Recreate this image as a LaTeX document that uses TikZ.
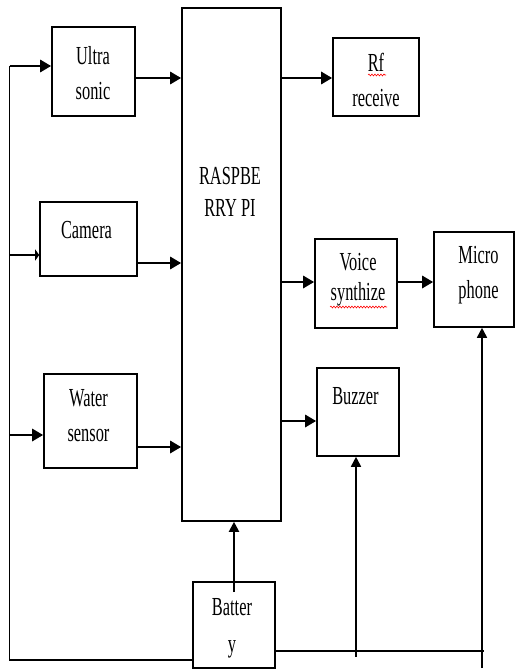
\documentclass[tikz,border=0pt]{standalone}
\usepackage{fontspec}
\setmainfont[FakeStretch=0.63]{Liberation Serif}
\usetikzlibrary{arrows.meta,decorations.pathmorphing}

\begin{document}
\begin{tikzpicture}[x=1pt,y=-1pt]
  \tikzset{blk/.style 2 args={draw,line width=1.6pt,inner sep=0pt,minimum width=#1,minimum height=#2},
    txt/.style={inner sep=0pt,align=center,font=\fontsize{26}{35}\selectfont},
    wire/.style={line width=1.7pt},
    feed/.style={line width=2.8pt,-{Triangle[length=11pt,width=12pt]}},
    up/.style={line width=1.7pt,-{Triangle[length=10pt,width=10pt]}},
    squig/.style={red,line width=0.6pt,decorate,decoration={snake,amplitude=0.9pt,segment length=3pt}}}
  \useasboundingbox (0,0) rectangle (515,671);
  % blocks
  \node[blk={83pt}{89pt}] (us) at (93.5,71.5) {};
  \node[blk={97pt}{74pt}] (cam) at (88.5,239) {};
  \node[blk={93pt}{94pt}] (wat) at (90.5,421) {};
  \node[blk={99pt}{513pt}] (rpi) at (231.5,264.5) {};
  \node[blk={86pt}{78pt}] (rf) at (376,77) {};
  \node[blk={82pt}{89pt}] (voi) at (356,283.5) {};
  \node[blk={80pt}{95pt}] (mic) at (474,279.5) {};
  \node[blk={82pt}{88pt}] (buz) at (358,412) {};
  \node[blk={82pt}{86pt}] (bat) at (234,625) {};
  % labels
  \node[txt] (ustxt) at (93,73.5) {Ultra\\sonic};
  \node[txt] (camtxt) at (86.5,230) {Camera};
  \node[txt] (wattxt) at (88.5,416) {Water\\sensor};
  \node[txt,font=\fontsize{26}{32}\selectfont] (rpitxt) at (230,192) {RASPBE\\RRY PI};
  \node[txt] (rftxt) at (376,80) {Rf\\receive};
  \node[txt,font=\fontsize{26}{30}\selectfont] (voitxt) at (358,280) {Voice\\synthize};
  \node[txt] (mictxt) at (478.5,275) {Micro\\phone};
  \node[txt] (buztxt) at (355.5,396.5) {Buzzer};
  \node[txt,font=\fontsize{26}{37}\selectfont] (battxt) at (232,628) {Batter\\y};
  \draw[squig] (368,75) -- (386,75);
  \draw[squig] (330,307) -- (387,307);
  % power bus on the left
  \coordinate (b1) at (9.5,66);
  \coordinate (b4) at (9.5,660);
  \draw[wire] (bat.west |- b4) -- (b4) -- (b1);
  \draw[feed] (b1) -- (us.west |- b1);
  \draw[feed,-{Triangle[length=4pt,width=11pt]}] (b1 |- 0,255) -- (cam.west |- 0,255);
  \draw[feed] (b1 |- 0,435) -- (wat.west |- 0,435);
  % sensors into the pi
  \draw[feed] (us.east |- 0,78) -- (rpi.west |- 0,78);
  \draw[feed] (cam.east |- 0,263) -- (rpi.west |- 0,263);
  \draw[feed] (wat.east |- 0,447) -- (rpi.west |- 0,447);
  % pi outputs
  \draw[feed] (rpi.east |- 0,78) -- (rf.west |- 0,78);
  \draw[feed] (rpi.east |- 0,282) -- (voi.west |- 0,282);
  \draw[feed] (voi.east |- 0,282) -- (mic.west |- 0,282);
  \draw[feed] (rpi.east |- 0,421) -- (buz.west |- 0,421);
  % battery supply
  \coordinate (bz0) at (356,657);
  \coordinate (mc0) at (482,668);
  \draw[wire] (bat.east |- 0,651) -- (484,651);
  \draw[up] (bz0) -- (buz.south -| bz0);
  \draw[up] (mc0) -- (mic.south -| mc0);
  \draw[up,line width=2pt] ([yshift=-11pt]bat.north) -- (rpi.south -| bat.north);
\end{tikzpicture}
\end{document}
